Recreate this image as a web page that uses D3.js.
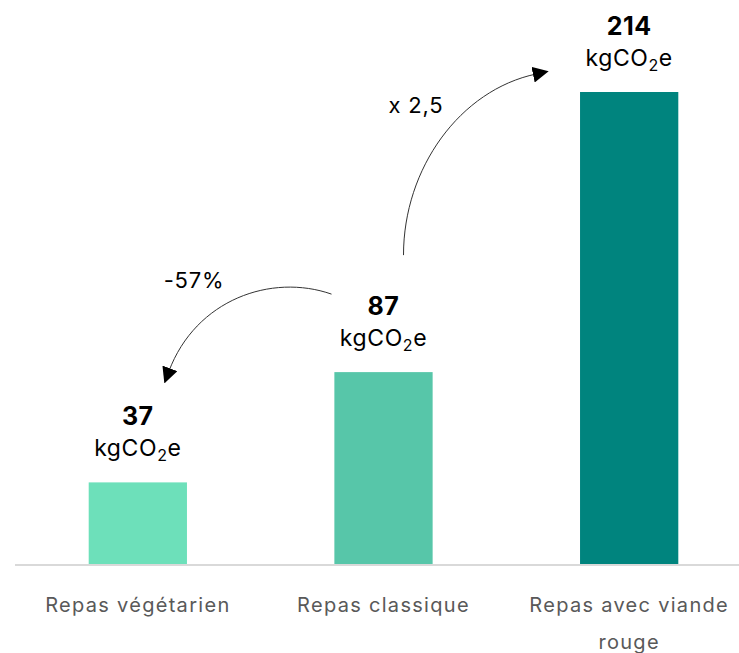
<!DOCTYPE html>
<html>
<head>
<meta charset="utf-8">
<script src="https://cdn.jsdelivr.net/npm/d3@7"></script>
<style>
  body { margin: 0; background: #fff; }
  text { font-family: Inter, "Noto Sans", sans-serif; }
</style>
</head>
<body>
<svg id="chart" width="739" height="653"></svg>
<script>
const categories = ["Repas végétarien", "Repas classique", "Repas avec viande rouge"];
const values = [37, 87, 214];
const arrowLabels = ["-57%", "x 2,5"];
const colors = ["#6de0ba", "#57c6a9", "#00847e"];

const width = 739, height = 653;
const margin = {left: 15, right: -13, top: 92, bottom: 89};

const svg = d3.select("#chart");

let xScale = d3.scaleBand(categories, [margin.left, width - margin.right])
  .paddingInner(0.6)
  .paddingOuter(0.3);

let yScale = d3.scaleLinear([0, d3.max(values)], [height - margin.bottom, margin.top]);

// baseline
svg.append("line")
  .attr("x1", margin.left).attr("x2", width)
  .attr("y1", yScale(0) + 1).attr("y2", yScale(0) + 1)
  .attr("stroke", "#d9d9d9").attr("stroke-width", 2);

// bars
svg.selectAll("rect.bar")
  .data(values)
  .join("rect")
  .attr("class", "bar")
  .attr("x", (d, i) => xScale(categories[i]))
  .attr("y", d => yScale(d))
  .attr("width", xScale.bandwidth())
  .attr("height", d => yScale(0) - yScale(d))
  .attr("fill", (d, i) => colors[i]);

const cx = i => xScale(categories[i]) + xScale.bandwidth() / 2;

// value labels
svg.selectAll("text.val")
  .data(values)
  .join("text")
  .attr("class", "val")
  .attr("x", (d, i) => cx(i))
  .attr("y", d => yScale(d) - 57)
  .attr("text-anchor", "middle")
  .attr("font-size", 25)
  .attr("font-weight", 700)
  .attr("letter-spacing", 0.5)
  .attr("fill", "#000")
  .text(d => d);

const unit = svg.selectAll("text.unit")
  .data(values)
  .join("text")
  .attr("class", "unit")
  .attr("x", (d, i) => cx(i))
  .attr("y", d => yScale(d) - 26)
  .attr("text-anchor", "middle")
  .attr("font-size", 23)
  .attr("letter-spacing", 0.6)
  .attr("fill", "#000");
unit.append("tspan").text("kgCO");
unit.append("tspan").attr("font-size", 16).attr("dy", 5).text("2");
unit.append("tspan").attr("dy", -5).text("e");

// category labels (wrapped like the original)
const lines = [["Repas végétarien"], ["Repas classique"], ["Repas avec viande", "rouge"]];
svg.selectAll("text.cat")
  .data(categories)
  .join("text")
  .attr("class", "cat")
  .attr("text-anchor", "middle")
  .attr("font-size", 20)
  .attr("fill", "#595959")
  .attr("letter-spacing", 1.3)
  .each(function(d, i) {
    d3.select(this).selectAll("tspan")
      .data(lines[i])
      .join("tspan")
      .attr("x", cx(i))
      .attr("y", (l, j) => yScale(0) + 48 + j * 37)
      .text(l => l);
  });

// arrow markers
svg.append("defs").append("marker")
  .attr("id", "head")
  .attr("viewBox", "0 0 10 10")
  .attr("refX", 2).attr("refY", 5)
  .attr("markerWidth", 16).attr("markerHeight", 16)
  .attr("markerUnits", "userSpaceOnUse")
  .attr("orient", "auto")
  .append("path")
  .attr("d", "M0,0 L10,5 L0,10 Z")
  .attr("fill", "#000");

// -57% arrow: from classic label to vegetarian label
const a1 = d3.path();
const s1 = [cx(1) - 52, yScale(values[1]) - 78];
const e1 = [cx(0) + 31, yScale(values[0]) - 111];
a1.moveTo(s1[0], s1[1]);
a1.bezierCurveTo(s1[0] - 60, s1[1] - 21, e1[0] + 27, e1[1] - 72, e1[0], e1[1]);
svg.append("path").attr("d", a1.toString())
  .attr("fill", "none").attr("stroke", "#333").attr("stroke-width", 1)
  .attr("marker-end", "url(#head)");

// x 2,5 arrow: from classic label to red meat label
const a2 = d3.path();
const s2 = [cx(1) + 20, yScale(values[1]) - 117];
const e2 = [cx(2) - 93, yScale(values[2]) - 18];
a2.moveTo(s2[0], s2[1]);
a2.bezierCurveTo(s2[0], s2[1] - 87, e2[0] - 76, e2[1] + 16, e2[0], e2[1]);
svg.append("path").attr("d", a2.toString())
  .attr("fill", "none").attr("stroke", "#333").attr("stroke-width", 1)
  .attr("marker-end", "url(#head)");

svg.append("text")
  .attr("x", 194).attr("y", 288)
  .attr("text-anchor", "middle")
  .attr("font-size", 22).attr("letter-spacing", 0.8).attr("fill", "#000")
  .text(arrowLabels[0]);

svg.append("text")
  .attr("x", 416).attr("y", 113)
  .attr("text-anchor", "middle")
  .attr("font-size", 22).attr("letter-spacing", 0.8).attr("fill", "#000")
  .text(arrowLabels[1]);
</script>
</body>
</html>
